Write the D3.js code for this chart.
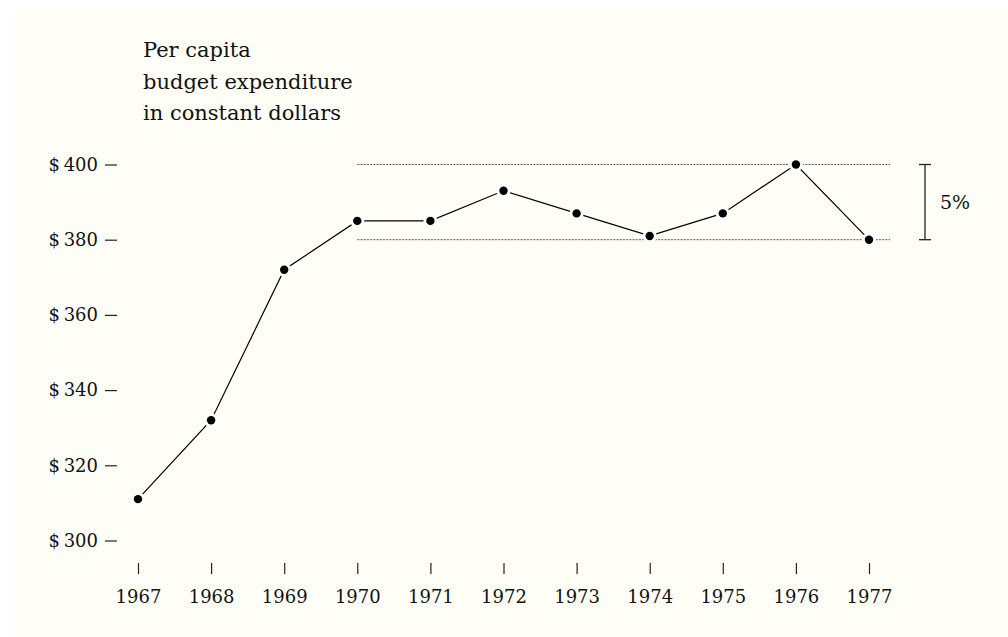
<!DOCTYPE html>
<html>
<head>
<meta charset="utf-8">
<script src="https://cdn.jsdelivr.net/npm/d3@7"></script>
<style>
  html, body { margin: 0; padding: 0; background: #ffffff; }
  svg { display: block; }
  text { font-family: "DejaVu Serif", "Liberation Serif", serif; fill: #111; }
</style>
</head>
<body>
<svg id="chart" width="1008" height="637"></svg>
<script>
// Per capita budget expenditure, constant dollars
const years = [1967, 1968, 1969, 1970, 1971, 1972, 1973, 1974, 1975, 1976, 1977];
const spending = [311, 332, 372, 385, 385, 393, 387, 381, 387, 400, 380];
const yTicks = [300, 320, 340, 360, 380, 400];
const titleLines = ["Per capita", "budget expenditure", "in constant dollars"];
// Band highlighted by the bracket on the right
const bandYears = [1970, 1977];
const bandValues = [380, 400];
const bandLabel = "5%";

const svg = d3.select("#chart");

svg.append("rect")
  .attr("x", 14).attr("y", 10)
  .attr("width", 1008 - 14).attr("height", 637 - 10)
  .attr("fill", "#fffff8");

const x = d3.scaleLinear().domain([1967, 1977]).range([138, 869]);
const y = d3.scaleLinear().domain([300, 400]).range([540.5, 164.5]);

// Title block
const title = svg.append("text").attr("x", 143).attr("y", 57)
  .style("font-size", "21px");
titleLines.forEach((t, i) => {
  title.append("tspan").attr("x", 143).attr("y", 57 + i * 31.5).text(t);
});

// Y axis: labels with short dash ticks, no domain line
const yAxis = svg.append("g")
  .attr("transform", "translate(117,0)")
  .call(d3.axisLeft(y).tickValues(yTicks).tickSize(12).tickPadding(7)
    .tickFormat(d => "$\u2009" + d));
yAxis.select(".domain").remove();
yAxis.selectAll(".tick line").attr("stroke", "#222").attr("stroke-width", 1.2);
yAxis.selectAll(".tick text")
  .style("font-size", "18px")
  .style("font-family", "'DejaVu Serif', serif")
  .attr("fill", "#111");

// X axis: small vertical ticks, year labels
const xAxis = svg.append("g")
  .attr("transform", "translate(0,563)")
  .call(d3.axisBottom(x).tickValues(years).tickSize(11).tickFormat(d3.format("d")));
xAxis.select(".domain").remove();
xAxis.selectAll(".tick line").attr("stroke", "#222").attr("stroke-width", 1.2);
xAxis.selectAll(".tick text")
  .attr("y", 40).attr("dy", 0)
  .style("font-size", "18px")
  .style("font-family", "'DejaVu Serif', serif")
  .attr("fill", "#111");

// Dotted reference lines at the band limits
svg.append("g").selectAll("line")
  .data(bandValues)
  .join("line")
  .attr("x1", x(bandYears[0]))
  .attr("x2", x(bandYears[1]) + 21)
  .attr("y1", d => y(d)).attr("y2", d => y(d))
  .attr("stroke", "#555")
  .attr("stroke-width", 1)
  .attr("stroke-dasharray", "2,1.2");

// Bracket marking the band
const bx = 925;
const bracket = svg.append("g").attr("stroke", "#222").attr("stroke-width", 1.3);
bracket.append("line").attr("x1", bx).attr("x2", bx)
  .attr("y1", y(bandValues[1])).attr("y2", y(bandValues[0]));
bandValues.forEach(v => {
  bracket.append("line").attr("x1", bx - 6).attr("x2", bx + 6)
    .attr("y1", y(v)).attr("y2", y(v));
});
svg.append("text")
  .attr("x", 940)
  .attr("y", (y(bandValues[0]) + y(bandValues[1])) / 2 + 7)
  .style("font-size", "19px")
  .text(bandLabel);

// Data line
const data = years.map((yr, i) => ({ year: yr, value: spending[i] }));
svg.append("path")
  .datum(data)
  .attr("fill", "none")
  .attr("stroke", "#000")
  .attr("stroke-width", 1.2)
  .attr("d", d3.line().x(d => x(d.year)).y(d => y(d.value)));

// Light halo behind each point so the line stops short of it
svg.append("g").selectAll("circle")
  .data(data)
  .join("circle")
  .attr("cx", d => x(d.year))
  .attr("cy", d => y(d.value))
  .attr("r", 7)
  .attr("fill", "#ffffff");

// Points
svg.append("g").selectAll("circle")
  .data(data)
  .join("circle")
  .attr("cx", d => x(d.year))
  .attr("cy", d => y(d.value))
  .attr("r", 4.2)
  .attr("fill", "#000");
</script>
</body>
</html>
